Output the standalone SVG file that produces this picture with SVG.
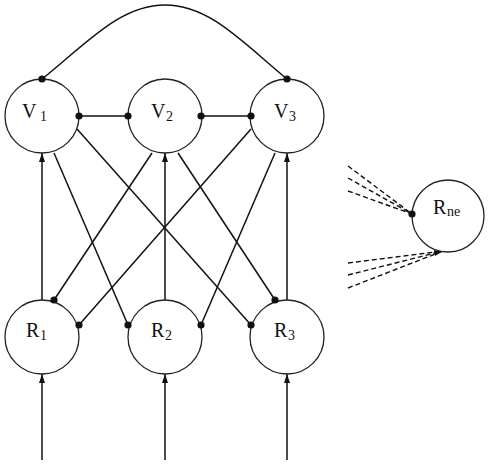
<svg xmlns="http://www.w3.org/2000/svg" width="490" height="466" viewBox="0 0 490 466">
<style>
.node{fill:#fff;stroke:#222;stroke-width:1.3}
.ln{stroke:#111;stroke-width:1.5;fill:none}
.dash{stroke:#111;stroke-width:1.4;fill:none;stroke-dasharray:5,3}
.dot{fill:#111}
.lbl{font-family:"Liberation Serif","Times New Roman",serif;font-size:20px;fill:#111}
.sub{font-size:14px}
</style>
<defs>
<marker id="arr" markerUnits="userSpaceOnUse" markerWidth="10" markerHeight="8" refX="9" refY="3" orient="auto">
<path d="M0,0 L9,3 L0,6 z" fill="#111"/>
</marker>
</defs>
<rect width="490" height="466" fill="#fff"/>
<g id="connectors">
<path class="ln" d="M42,79 C87,43 120,5 165,5 C210,5 243,43 287,79"/>
<line class="ln" x1="79" y1="116" x2="128" y2="116"/>
<line class="ln" x1="201" y1="116" x2="251" y2="116"/>
<line class="ln" x1="54" y1="153" x2="128" y2="325"/>
<line class="ln" x1="77" y1="129" x2="251" y2="325"/>
<line class="ln" x1="152" y1="153" x2="54" y2="300"/>
<line class="ln" x1="178" y1="153" x2="275" y2="300"/>
<line class="ln" x1="251" y1="129" x2="79" y2="325"/>
<line class="ln" x1="275" y1="153" x2="201" y2="325"/>
<line class="ln" x1="42" y1="300" x2="42" y2="153" marker-end="url(#arr)"/>
<line class="ln" x1="165" y1="300" x2="165" y2="153" marker-end="url(#arr)"/>
<line class="ln" x1="287" y1="300" x2="287" y2="153" marker-end="url(#arr)"/>
<line class="ln" x1="42" y1="460" x2="42" y2="374" marker-end="url(#arr)"/>
<line class="ln" x1="165" y1="460" x2="165" y2="374" marker-end="url(#arr)"/>
<line class="ln" x1="287" y1="460" x2="287" y2="374" marker-end="url(#arr)"/>
<line class="dash" x1="348" y1="166" x2="412" y2="214"/>
<line class="dash" x1="348" y1="178" x2="412" y2="214"/>
<line class="dash" x1="348" y1="191" x2="412" y2="214"/>
<line class="dash" x1="348" y1="263" x2="443" y2="251"/>
<line class="dash" x1="348" y1="275" x2="443" y2="251" marker-end="url(#arr)"/>
<line class="dash" x1="348" y1="288" x2="443" y2="251"/>
</g>
<g id="V1">
<circle class="node" cx="42" cy="116" r="37"/>
<text class="lbl" x="22" y="118">V<tspan class="sub" x="40" y="121">1</tspan></text>
</g>
<g id="V2">
<circle class="node" cx="165" cy="116" r="37"/>
<text class="lbl" x="151" y="118">V<tspan class="sub" x="166" y="121">2</tspan></text>
</g>
<g id="V3">
<circle class="node" cx="287" cy="116" r="37"/>
<text class="lbl" x="274" y="118">V<tspan class="sub" x="289" y="121">3</tspan></text>
</g>
<g id="R1">
<circle class="node" cx="42" cy="337" r="37"/>
<text class="lbl" x="26" y="337">R<tspan class="sub" x="40" y="340">1</tspan></text>
</g>
<g id="R2">
<circle class="node" cx="165" cy="337" r="37"/>
<text class="lbl" x="151" y="337">R<tspan class="sub" x="165" y="340">2</tspan></text>
</g>
<g id="R3">
<circle class="node" cx="287" cy="337" r="37"/>
<text class="lbl" x="274" y="337">R<tspan class="sub" x="288" y="340">3</tspan></text>
</g>
<g id="Rne">
<circle class="node" cx="448" cy="216" r="36"/>
<text class="lbl" x="433" y="214" font-size="21">R<tspan class="sub" x="447" y="216" font-size="15">ne</tspan></text>
</g>
<g id="dots">
<circle class="dot" cx="42" cy="79" r="3.6"/>
<circle class="dot" cx="287" cy="79" r="3.6"/>
<circle class="dot" cx="79" cy="116" r="3.6"/>
<circle class="dot" cx="128" cy="116" r="3.6"/>
<circle class="dot" cx="201" cy="116" r="3.6"/>
<circle class="dot" cx="251" cy="116" r="3.6"/>
<circle class="dot" cx="54" cy="300" r="3.6"/>
<circle class="dot" cx="79" cy="325" r="3.6"/>
<circle class="dot" cx="128" cy="325" r="3.6"/>
<circle class="dot" cx="201" cy="325" r="3.6"/>
<circle class="dot" cx="251" cy="325" r="3.6"/>
<circle class="dot" cx="275" cy="300" r="3.6"/>
<circle class="dot" cx="412" cy="214" r="3.6"/>
</g>
</svg>
